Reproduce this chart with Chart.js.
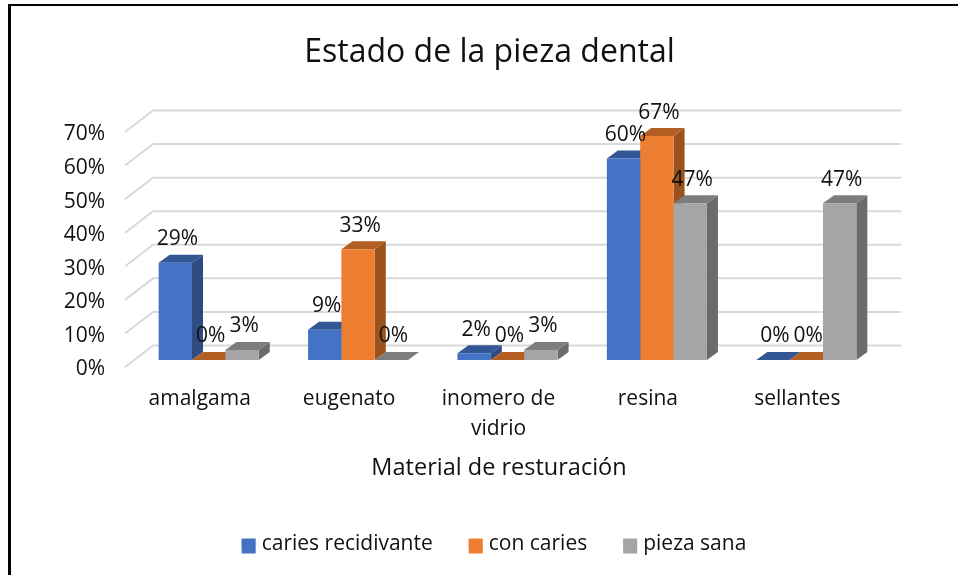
<!DOCTYPE html>
<html>
<head>
<meta charset="utf-8">
<style>
  html, body { margin: 0; padding: 0; background: #fff; overflow: hidden; }
  #frame { position: absolute; left: 8px; top: 4px; right: 0; bottom: 0; border-top: 2px solid #000; border-left: 3px solid #000; pointer-events: none; }
  canvas { position: absolute; left: 0; top: 0; }
</style>
<script src="https://cdn.jsdelivr.net/npm/chart.js@4/dist/chart.umd.min.js"></script>
</head>
<body>
<canvas id="chart" width="958" height="575"></canvas>
<div id="frame"></div>
<script>
const CATEGORIES = ['amalgama', 'eugenato', ['inomero de', 'vidrio'], 'resina', 'sellantes'];
const CARIES_RECIDIVANTE = [29, 9, 2, 60, 0];
const CON_CARIES = [0, 33, 0, 66.7, 0];
const PIEZA_SANA = [3, 0, 3, 46.7, 46.7];

const FONT = '"Open Sans", sans-serif';
const TEXT = '#111111';
const FRONT = ['#4472c4', '#ed7d31', '#a5a5a5'];
const SIDE = ['#2e4c82', '#99521b', '#6b6b6b'];
const TOP = ['#335694', '#b35e23', '#7d7d7d'];

// bar depth, in px
const DEPTH_X = 11;
const DEPTH_Y = 8;

function poly(ctx, pts, color) {
  ctx.fillStyle = color;
  ctx.beginPath();
  pts.forEach((p, i) => i ? ctx.lineTo(p[0], p[1]) : ctx.moveTo(p[0], p[1]));
  ctx.closePath();
  ctx.fill();
}

/**
 * Fake 3D: back wall and floor lines, then side and top faces of the bars
 */
const walls = {
  id: 'walls',
  afterLayout(chart) {
    // legend is centred a little right of the title
    const legend = chart.legend;
    legend.left += 4.5;
    legend.right += 4.5;
    legend.legendHitBoxes.forEach(h => { h.left += 4.5; });
  },
  beforeDatasetsDraw(chart) {
    const { ctx, chartArea, scales } = chart;
    ctx.save();
    ctx.strokeStyle = '#d9d9d9';
    ctx.lineWidth = 2;
    scales.y.ticks.forEach(t => {
      const y = scales.y.getPixelForValue(t.value);
      ctx.beginPath();
      ctx.moveTo(chartArea.left - 9, y + 7);
      ctx.lineTo(chartArea.left + 19, y - 14.5);
      ctx.lineTo(chartArea.right + 20, y - 14.5);
      ctx.stroke();
    });
    chart.data.datasets.forEach((ds, d) => {
      chart.getDatasetMeta(d).data.forEach(bar => {
        const x0 = bar.x - bar.width / 2;
        const x1 = bar.x + bar.width / 2;
        const yt = bar.y;
        const yb = bar.base;
        poly(ctx, [[x1, yt], [x1 + DEPTH_X, yt - DEPTH_Y], [x1 + DEPTH_X, yb - DEPTH_Y], [x1, yb]], SIDE[d]);
        poly(ctx, [[x0, yt], [x0 + DEPTH_X, yt - DEPTH_Y], [x1 + DEPTH_X, yt - DEPTH_Y], [x1, yt]], TOP[d]);
      });
    });
    ctx.restore();
  },
  afterDatasetsDraw(chart) {
    const { ctx, chartArea } = chart;
    ctx.save();
    ctx.fillStyle = TEXT;
    ctx.font = '21px ' + FONT;
    ctx.textAlign = 'center';
    ctx.textBaseline = 'middle';
    chart.data.datasets.forEach((ds, d) => {
      chart.getDatasetMeta(d).data.forEach((bar, i) => {
        ctx.fillText(Math.round(ds.data[i]) + '%', bar.x + 2, bar.y - 23.5);
      });
    });
    // axis title sits under the front edge of the floor
    ctx.font = '23.5px ' + FONT;
    ctx.fillText('Material de resturación', (chartArea.left + chartArea.right) / 2 - 8.5, chartArea.bottom + 108);
    ctx.restore();
  },
  afterDraw(chart) {
    // native legend gap is tied to the font size, so widen the boxes here
    const { ctx } = chart;
    chart.legend.legendHitBoxes.forEach((h, i) => {
      ctx.fillStyle = FRONT[i];
      ctx.fillRect(h.left, h.top + (h.height - 15) / 2 + 1.5, 14, 15);
    });
  }
};

new Chart(document.getElementById('chart'), {
  type: 'bar',
  data: {
    labels: CATEGORIES,
    datasets: [
      { label: 'caries recidivante', data: CARIES_RECIDIVANTE, backgroundColor: FRONT[0] },
      { label: 'con caries', data: CON_CARIES, backgroundColor: FRONT[1] },
      { label: 'pieza sana', data: PIEZA_SANA, backgroundColor: FRONT[2] }
    ]
  },
  plugins: [walls],
  options: {
    responsive: false,
    animation: false,
    categoryPercentage: 0.67,
    barPercentage: 1,
    layout: { padding: { left: 60, right: 39, top: 0, bottom: 10 } },
    plugins: {
      title: {
        display: true,
        text: 'Estado de la pieza dental',
        color: TEXT,
        font: { family: FONT, size: 32, weight: 'normal', lineHeight: 1.2 },
        padding: { top: 34, bottom: 52.6 }
      },
      legend: {
        position: 'bottom',
        labels: {
          color: TEXT,
          font: { family: FONT, size: 21 },
          boxWidth: 9.5,
          boxHeight: 10,
          padding: 36
        }
      },
      tooltip: { enabled: false }
    },
    scales: {
      x: {
        grid: { display: false },
        border: { display: false },
        afterFit(scale) { scale.height = 138; },
        ticks: {
          color: TEXT,
          font: { family: FONT, size: 21, lineHeight: 1.43 },
          padding: 16,
          labelOffset: -9,
          maxRotation: 0,
          autoSkip: false
        }
      },
      y: {
        min: 0,
        max: 70,
        grid: { display: false },
        border: { display: false },
        afterFit(scale) { scale.width = 74; },
        ticks: {
          color: TEXT,
          font: { family: FONT, size: 21 },
          stepSize: 10,
          padding: 21,
          labelOffset: 9.5,
          callback: v => v + '%'
        }
      },
      // empty right axis, only holds the space right of the plot
      y2: {
        position: 'right',
        grid: { display: false },
        border: { display: false },
        ticks: { display: false },
        afterFit(scale) { scale.width = 38; }
      }
    }
  }
});
</script>
</body>
</html>
